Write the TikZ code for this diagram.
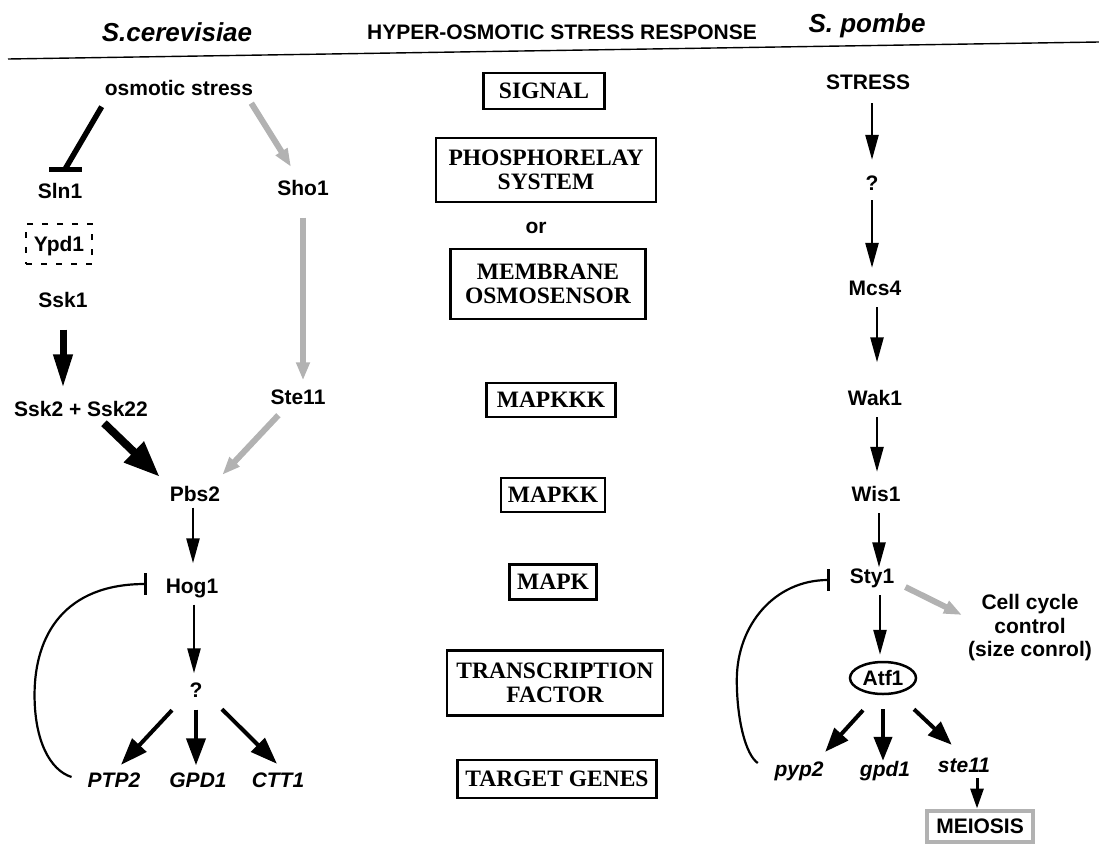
\documentclass[tikz,border=0pt]{standalone}
\usepackage{fontspec}
\setmainfont{Liberation Serif}
\setsansfont{Liberation Sans}
\usetikzlibrary{arrows.meta,shapes.geometric}

\newcommand{\lblsize}{\fontsize{21}{23.5}\selectfont}

\begin{document}
\begin{tikzpicture}[
  x=1pt, y=-1pt,
  font=\sffamily\bfseries,
  lbl/.style={font=\sffamily\bfseries\lblsize, inner sep=0pt, text height=15pt, text depth=0pt},
  gene/.style={lbl, font=\sffamily\bfseries\itshape\lblsize},
  note/.style={font=\sffamily\bfseries\lblsize, inner sep=0pt, align=center},
  hdr/.style={font=\sffamily\bfseries\itshape\fontsize{26}{28}\selectfont, inner sep=0pt, text height=19pt, text depth=0pt},
  stage/.style={draw, line width=2.5pt, align=center, inner sep=0pt, font=\rmfamily\bfseries\fontsize{23.5}{24}\selectfont},
  arr/.style={-{Triangle[length=25pt,width=13pt]}, line width=2.5pt},
  fatarr/.style={-{Triangle[length=34pt,width=18pt]}, line width=7pt},
  genearr/.style={-{Triangle[length=27pt,width=19pt]}, line width=4pt},
  greyarr/.style={-{Triangle[length=18pt,width=13pt]}, line width=6pt, draw=black!30},
  fb/.style={-{Bar[width=22pt]}, line width=2.2pt},
]
\useasboundingbox (0,0) rectangle (1099,843);

% headers
\node[hdr] (cerev) at (177,32) {S.cerevisiae};
\node[lbl] (title) at (562,32) {HYPER-OSMOTIC STRESS RESPONSE};
\node[hdr] (pombe) at (867,23) {S. pombe};
\draw[line width=1.4pt] (8,59) -- (1099,42);

% S. cerevisiae
\node[lbl] (osm)   at (179,88)  {osmotic stress};
\node[lbl] (sln1)  at (60,191)  {Sln1};
\node[lbl] (sho1)  at (303,188) {Sho1};
\node[lbl, draw, dash pattern=on 6pt off 9pt, line width=1.6pt,
      minimum width=66pt, minimum height=40pt] (ypd1) at (59,244) {Ypd1};
\node[lbl] (ssk1)  at (63,300)  {Ssk1};
\node[lbl] (ssk2)  at (81,409)  {Ssk2 + Ssk22};
\node[lbl] (ste11) at (298,397) {Ste11};
\node[lbl] (pbs2)  at (195,494) {Pbs2};
\node[lbl] (hog1)  at (192,586) {Hog1};
\node[lbl] (qa)    at (196,690) {?};
\node[gene] (ptp2) at (114,780) {PTP2};
\node[gene] (gpd1) at (198,780) {GPD1};
\node[gene] (ctt1) at (278,780) {CTT1};
\coordinate (slnbar) at ([xshift=5pt,yshift=14pt]sln1.north);

\draw[line width=5.5pt] ([xshift=-3pt,yshift=-11pt]osm.south west) -- (slnbar);
\draw[line width=5.5pt] ([xshift=-16pt]slnbar) -- ([xshift=17pt]slnbar);
\draw[greyarr] ([xshift=-2pt,yshift=-7.5pt]osm.south east) -- ([xshift=-12pt,yshift=13.5pt]sho1.north);
\draw[greyarr, shorten <=22pt, shorten >=9pt] (sho1.south) -- (sho1.south |- ste11.north);
\draw[fatarr, shorten <=22pt, shorten >=13pt] (ssk1.south) -- (ssk1.south |- ssk2.north);
\draw[fatarr, -{Triangle[length=36pt,width=27pt]}, line width=8pt]
  ([xshift=23pt,yshift=-6.5pt]ssk2.south) -- ([xshift=-10pt,yshift=9.5pt]pbs2.north west);
\draw[greyarr] ([xshift=8pt,yshift=-10.5pt]ste11.south west) -- ([xshift=2pt,yshift=11.5pt]pbs2.north east);
\draw[arr, shorten <=6pt, shorten >=15pt] ([xshift=-2pt]pbs2.south) -- ([xshift=-2pt]pbs2.south |- hog1.north);
\draw[arr, shorten <=11pt, shorten >=9pt] ([xshift=2pt]hog1.south) -- ([xshift=2pt]hog1.south |- qa.north);
\draw[genearr] ([xshift=-24pt,yshift=-12.5pt]qa.south) -- ([xshift=7pt,yshift=7.5pt]ptp2.north);
\draw[genearr, shorten <=12pt, shorten >=7pt] (qa.south) -- (qa.south |- gpd1.north);
\draw[genearr] ([xshift=26pt,yshift=-11.5pt]qa.south) -- ([xshift=-1pt,yshift=8.5pt]ctt1.north);
\draw[fb] ([xshift=-16pt,yshift=3pt]ptp2.west)
  .. controls +(-22,-7) and +(0,45) .. ++(-37,-82)
  .. controls +(0,-60) and +(-82,0) .. ([xshift=-19pt,yshift=2pt]hog1.west);

% middle column
\node[stage, minimum width=121pt, minimum height=36pt] (signal)  at (544,91)  {SIGNAL};
\node[stage, minimum width=220pt, minimum height=64pt] (phos)    at (546,170) {PHOSPHORELAY\\SYSTEM};
\node[lbl] (ortext) at (536,226) {or};
\node[stage, minimum width=195pt, minimum height=70pt] (membr)   at (548,284) {MEMBRANE\\OSMOSENSOR};
\node[stage, minimum width=129pt, minimum height=34pt] (mapkkk)  at (551,400) {MAPKKK};
\node[stage, minimum width=104pt, minimum height=34pt] (mapkk)   at (553,495) {MAPKK};
\node[stage, minimum width=87pt,  minimum height=35pt] (mapk)    at (553,582) {MAPK};
\node[stage, minimum width=216pt, minimum height=65pt] (tfac)    at (555,683) {TRANSCRIPTION\\FACTOR};
\node[stage, minimum width=199pt, minimum height=38pt] (targets) at (557,779) {TARGET GENES};

% S. pombe
\node[lbl] (stress) at (868,82)  {STRESS};
\node[lbl] (qb)     at (872,183) {?};
\node[lbl] (mcs4)   at (875,288) {Mcs4};
\node[lbl] (wak1)   at (875,398) {Wak1};
\node[lbl] (wis1)   at (876,494) {Wis1};
\node[lbl] (sty1)   at (872,576) {Sty1};
\node[lbl, ellipse, draw, line width=2.5pt, minimum width=66pt, minimum height=32pt] (atf1) at (883,678) {Atf1};
\node[note] (cellcyc) at (1030,628) {Cell cycle\\control\\(size conrol)};
\node[gene] (pyp2)   at (799,768.5) {pyp2};
\node[gene] (gpd1s)  at (885,768.5) {gpd1};
\node[gene] (ste11s) at (964,764.5) {ste11};
\node[lbl, draw=black!30, line width=4pt, minimum width=106pt, minimum height=31pt] (meio) at (980,826) {MEIOSIS};

\draw[arr, shorten <=13.5pt, shorten >=15.5pt] (qb.north |- stress.south) -- (qb.north);
\draw[arr, shorten <=9.5pt, shorten >=12.5pt] (qb.south) -- (qb.south |- mcs4.north);
\draw[arr, shorten <=11.5pt, shorten >=28pt] ([xshift=2pt]mcs4.south) -- ([xshift=2pt]mcs4.south |- wak1.north);
\draw[arr, shorten <=11.5pt, shorten >=14.5pt] ([xshift=2pt]wak1.south) -- ([xshift=2pt]wak1.south |- wis1.north);
\draw[arr, shorten <=11.5pt, shorten >=1pt] ([xshift=3pt]wis1.south) -- ([xshift=3pt]wis1.south |- sty1.north);
\draw[arr, shorten <=11.5pt, shorten >=6pt] ([xshift=8pt]sty1.south) -- ([xshift=8pt]sty1.south |- atf1.north);
\draw[greyarr] ([xshift=11pt,yshift=-11pt]sty1.east) -- ([xshift=-6pt,yshift=13pt]cellcyc.west);
\draw[genearr, -{Triangle[length=24pt,width=18pt]}] ([xshift=-20pt,yshift=-15pt]atf1.south) -- ([xshift=1.5pt,yshift=9pt]pyp2.north east);
\draw[genearr, -{Triangle[length=24pt,width=18pt]}, shorten <=14pt] (atf1.south) -- (atf1.south |- gpd1s.north);
\draw[genearr, -{Triangle[length=24pt,width=18pt]}] ([xshift=31pt,yshift=-14pt]atf1.south) -- ([xshift=14pt,yshift=12pt]ste11s.north west);
\draw[arr, -{Triangle[length=20pt,width=13pt]}, line width=3pt, shorten <=6pt]
  ([xshift=-3pt]meio.north |- ste11s.south) -- ([xshift=-3pt]meio.north);
\draw[fb] ([xshift=-16.5pt,yshift=5.5pt]pyp2.west)
  .. controls +(-12,-8) and +(0,40) .. ++(-21,-83)
  .. controls +(0,-55) and +(-55,0) .. ([xshift=-20pt,yshift=-4pt]sty1.west);
\end{tikzpicture}
\end{document}
